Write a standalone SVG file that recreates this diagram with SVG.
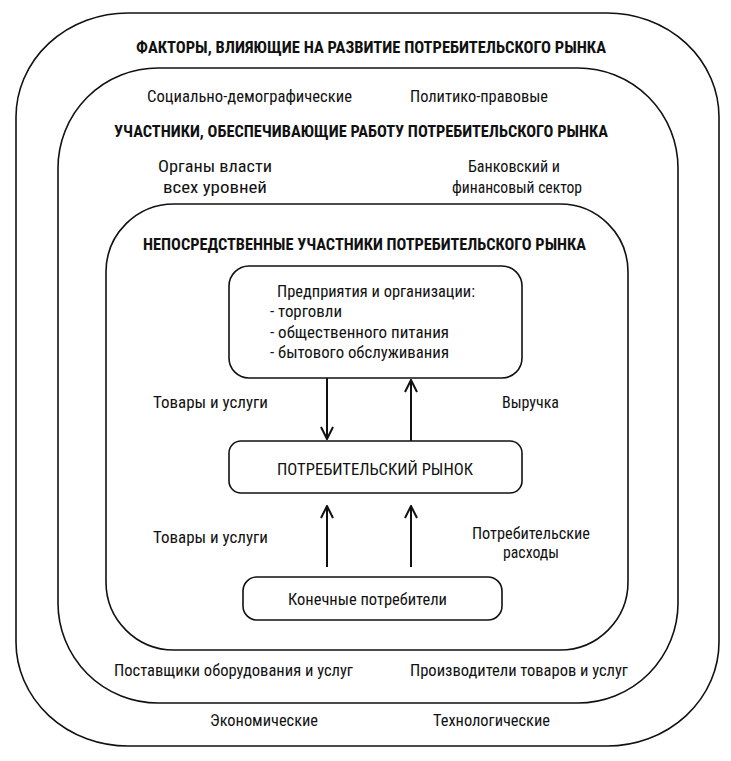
<svg xmlns="http://www.w3.org/2000/svg" width="731" height="761" viewBox="0 0 731 761">
<style>
.frame{fill:none;stroke:#111;stroke-width:1.6}
.box{fill:#fff;stroke:#111;stroke-width:1.6}
.t{font-family:"Liberation Sans Narrow","Roboto Condensed","Liberation Sans",Arial,sans-serif;font-size:16px;fill:#111}
.b{font-weight:bold;font-size:17px}
.m{font-size:16.5px}
.arrow{fill:none;stroke:#111;stroke-width:2}
</style>
<defs>
<marker id="ah" viewBox="0 0 14 14" refX="13" refY="7" markerWidth="14" markerHeight="14" markerUnits="userSpaceOnUse" orient="auto">
<path d="M1,1 L13,7 L1,13" fill="none" stroke="#111" stroke-width="2"/>
</marker>
</defs>
<rect width="731" height="761" fill="#fff"/>
<g id="factors">
<rect class="frame" x="16" y="13" width="703" height="733" rx="112" ry="104"/>
<text class="t b" x="136" y="53" textLength="470" lengthAdjust="spacingAndGlyphs">ФАКТОРЫ, ВЛИЯЮЩИЕ НА РАЗВИТИЕ ПОТРЕБИТЕЛЬСКОГО РЫНКА</text>
<text class="t" x="147" y="102" textLength="205" lengthAdjust="spacingAndGlyphs">Социально-демографические</text>
<text class="t" x="410" y="102" textLength="138" lengthAdjust="spacingAndGlyphs">Политико-правовые</text>
<text class="t" x="210" y="726" textLength="108" lengthAdjust="spacingAndGlyphs">Экономические</text>
<text class="t" x="433" y="726" textLength="117" lengthAdjust="spacingAndGlyphs">Технологические</text>
</g>
<g id="supporting">
<rect class="frame" x="58" y="68" width="620" height="635" rx="100" ry="100"/>
<text class="t b" x="114" y="137" textLength="494" lengthAdjust="spacingAndGlyphs">УЧАСТНИКИ, ОБЕСПЕЧИВАЮЩИЕ РАБОТУ ПОТРЕБИТЕЛЬСКОГО РЫНКА</text>
<text class="t" x="158" y="172" textLength="114" lengthAdjust="spacingAndGlyphs">Органы власти</text>
<text class="t" x="163" y="193" textLength="104" lengthAdjust="spacingAndGlyphs">всех уровней</text>
<text class="t" x="468" y="172" textLength="92" lengthAdjust="spacingAndGlyphs">Банковский и</text>
<text class="t" x="452" y="193" textLength="130" lengthAdjust="spacingAndGlyphs">финансовый сектор</text>
<text class="t" x="114" y="676" textLength="239" lengthAdjust="spacingAndGlyphs">Поставщики оборудования и услуг</text>
<text class="t" x="410" y="676" textLength="218" lengthAdjust="spacingAndGlyphs">Производители товаров и услуг</text>
</g>
<g id="direct">
<rect class="frame" x="106" y="204" width="522" height="446" rx="68" ry="68"/>
<text class="t b" x="143" y="250" textLength="443" lengthAdjust="spacingAndGlyphs">НЕПОСРЕДСТВЕННЫЕ УЧАСТНИКИ ПОТРЕБИТЕЛЬСКОГО РЫНКА</text>
<text class="t" x="153" y="408" textLength="115" lengthAdjust="spacingAndGlyphs">Товары и услуги</text>
<text class="t" x="502" y="408" textLength="57" lengthAdjust="spacingAndGlyphs">Выручка</text>
<text class="t" x="153" y="543" textLength="115" lengthAdjust="spacingAndGlyphs">Товары и услуги</text>
<text class="t" x="472" y="539" textLength="118" lengthAdjust="spacingAndGlyphs">Потребительские</text>
<text class="t" x="503" y="558" textLength="56" lengthAdjust="spacingAndGlyphs">расходы</text>
</g>
<g id="enterprises">
<rect class="box" x="229" y="266" width="293" height="112" rx="20" ry="20"/>
<text class="t m" x="277" y="297" textLength="198" lengthAdjust="spacingAndGlyphs">Предприятия и организации:</text>
<text class="t m" x="270" y="317" textLength="72" lengthAdjust="spacingAndGlyphs">- торговли</text>
<text class="t m" x="270" y="338" textLength="179" lengthAdjust="spacingAndGlyphs">- общественного питания</text>
<text class="t m" x="270" y="358" textLength="179" lengthAdjust="spacingAndGlyphs">- бытового обслуживания</text>
</g>
<g id="market">
<rect class="box" x="229" y="441" width="293" height="52" rx="12" ry="12"/>
<text class="t m" x="277" y="475" textLength="196" lengthAdjust="spacingAndGlyphs">ПОТРЕБИТЕЛЬСКИЙ РЫНОК</text>
</g>
<g id="consumers">
<rect class="box" x="243" y="577" width="259" height="43" rx="14" ry="14"/>
<text class="t m" x="288" y="605" textLength="159" lengthAdjust="spacingAndGlyphs">Конечные потребители</text>
</g>
<g id="connectors">
<path class="arrow" d="M327,378 L327,439" marker-end="url(#ah)"/>
<path class="arrow" d="M411,441 L411,380" marker-end="url(#ah)"/>
<path class="arrow" d="M327,567 L327,506" marker-end="url(#ah)"/>
<path class="arrow" d="M411,567 L411,506" marker-end="url(#ah)"/>
</g>
</svg>
